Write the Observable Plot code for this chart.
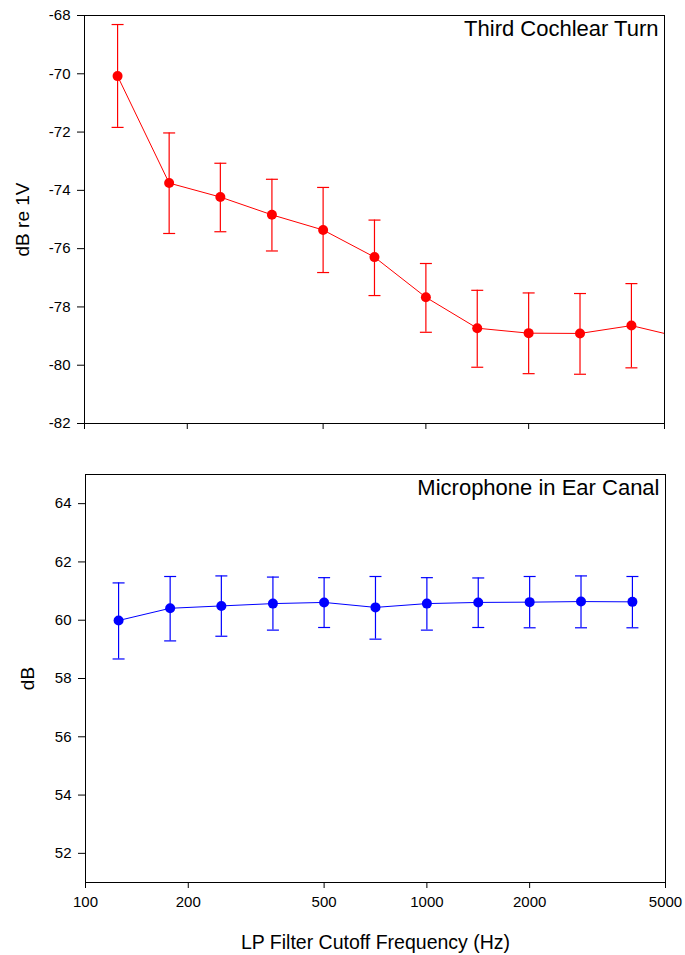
<!DOCTYPE html>
<html>
<head>
<meta charset="utf-8">
<script src="https://cdn.jsdelivr.net/npm/d3@7"></script>
<script src="https://cdn.jsdelivr.net/npm/@observablehq/plot@0.6"></script>
<style>
  html, body { margin: 0; padding: 0; background: white; }
  #chart { width: 685px; }
  #chart svg { display: block; }
</style>
</head>
<body>
<div id="chart"></div>
<script>
// LP filter cutoff frequencies (Hz)
const freqs = [125, 177, 250, 354, 500, 707, 1000, 1414, 2000, 2828, 4000, 5657];
const xTicks = [100, 200, 500, 1000, 2000, 5000];

// Third cochlear turn (dB re 1V)
const cochleaMean  = [-70.08, -73.75, -74.23, -74.84, -75.36, -76.29, -77.67, -78.73, -78.90, -78.91, -78.64, -79.06];
const cochleaUpper = [-68.31, -72.03, -73.07, -73.62, -73.90, -75.02, -76.51, -77.43, -77.52, -77.54, -77.20, null];
const cochleaLower = [-71.84, -75.48, -75.42, -76.08, -76.82, -77.61, -78.87, -80.07, -80.29, -80.31, -80.09, null];
const cochleaTicks = [-82, -80, -78, -76, -74, -72, -70, -68];

// Microphone in ear canal (dB)
const micMean  = [59.99, 60.41, 60.49, 60.57, 60.61, 60.44, 60.57, 60.61, 60.62, 60.64, 60.63];
const micUpper = [61.28, 61.50, 61.52, 61.48, 61.46, 61.50, 61.46, 61.45, 61.50, 61.52, 61.50];
const micLower = [58.67, 59.29, 59.45, 59.66, 59.75, 59.35, 59.66, 59.75, 59.74, 59.74, 59.74];
const micTicks = [52, 54, 56, 58, 60, 62, 64];

const capSymbol = {
  draw(context, size) {
    const r = Math.sqrt(size / Math.PI);
    context.moveTo(-r, 0);
    context.lineTo(r, 0);
  }
};

function rows(mean, upper, lower) {
  return mean.map((m, i) => ({f: freqs[i], m, hi: upper[i], lo: lower[i]}));
}

function panel({data, color, yDomain, yTicks, title, ylabel, ylabelDx, height, marginTop, marginBottom, marginLeft, marginRight, showXLabels, xLabel}) {
  const err = data.filter(d => d.hi != null && d.lo != null);
  const marks = [
    Plot.axisX({
      ticks: xTicks,
      tickFormat: showXLabels ? (d => String(d)) : (() => ""),
      tickSize: 6,
      tickPadding: 8,
      fontSize: 15,
      label: null
    }),
    Plot.axisY({
      ticks: yTicks,
      tickFormat: d => String(d),
      tickSize: 7,
      tickPadding: 7,
      fontSize: 15,
      label: null
    }),
    Plot.frame({stroke: "black", strokeWidth: 1}),
    Plot.ruleX(err, {x: "f", y1: "lo", y2: "hi", stroke: color, strokeWidth: 1.2, clip: true}),
    Plot.dot(err, {x: "f", y: "hi", r: 6, symbol: capSymbol, stroke: color, strokeWidth: 1.2, clip: true}),
    Plot.dot(err, {x: "f", y: "lo", r: 6, symbol: capSymbol, stroke: color, strokeWidth: 1.2, clip: true}),
    Plot.line(data, {x: "f", y: "m", stroke: color, strokeWidth: 1, clip: true}),
    Plot.dot(data, {x: "f", y: "m", r: 5, fill: color, stroke: "none", clip: true}),
    Plot.text([title], {frameAnchor: "top-right", dx: -6, dy: 5, text: d => d, textAnchor: "end", lineAnchor: "top", fontSize: 22, fill: "black"}),
    Plot.text([ylabel], {frameAnchor: "left", dx: ylabelDx, text: d => d, rotate: -90, textAnchor: "middle", lineAnchor: "middle", fontSize: 19, fill: "black"})
  ];
  if (xLabel) {
    marks.push(Plot.text([xLabel], {frameAnchor: "bottom", dy: 60, text: d => d, textAnchor: "middle", lineAnchor: "middle", fontSize: 19.5, fill: "black"}));
  }
  return Plot.plot({
    width: 685,
    height,
    marginTop, marginBottom, marginLeft, marginRight,
    style: {fontFamily: "'Liberation Sans', Arial, sans-serif", fontSize: "15px", background: "white", color: "black", overflow: "visible"},
    x: {type: "log", domain: [100, 5000], label: null},
    y: {domain: yDomain, label: null},
    marks
  });
}

const topPanel = panel({
  data: rows(cochleaMean, cochleaUpper, cochleaLower),
  color: "#ff0000",
  yDomain: [-82, -68],
  yTicks: cochleaTicks,
  title: "Third Cochlear Turn",
  ylabel: "dB re 1V",
  ylabelDx: -62,
  height: 445, marginTop: 15, marginBottom: 22, marginLeft: 84, marginRight: 21,
  showXLabels: false
});

const bottomPanel = panel({
  data: rows(micMean, micUpper, micLower),
  color: "#0000ff",
  yDomain: [51, 65],
  yTicks: micTicks,
  title: "Microphone in Ear Canal",
  ylabel: "dB",
  ylabelDx: -58,
  height: 510, marginTop: 29, marginBottom: 73, marginLeft: 85, marginRight: 20,
  showXLabels: true,
  xLabel: "LP Filter Cutoff Frequency (Hz)"
});

const chart = document.getElementById("chart");
chart.appendChild(topPanel);
chart.appendChild(bottomPanel);
</script>
</body>
</html>
